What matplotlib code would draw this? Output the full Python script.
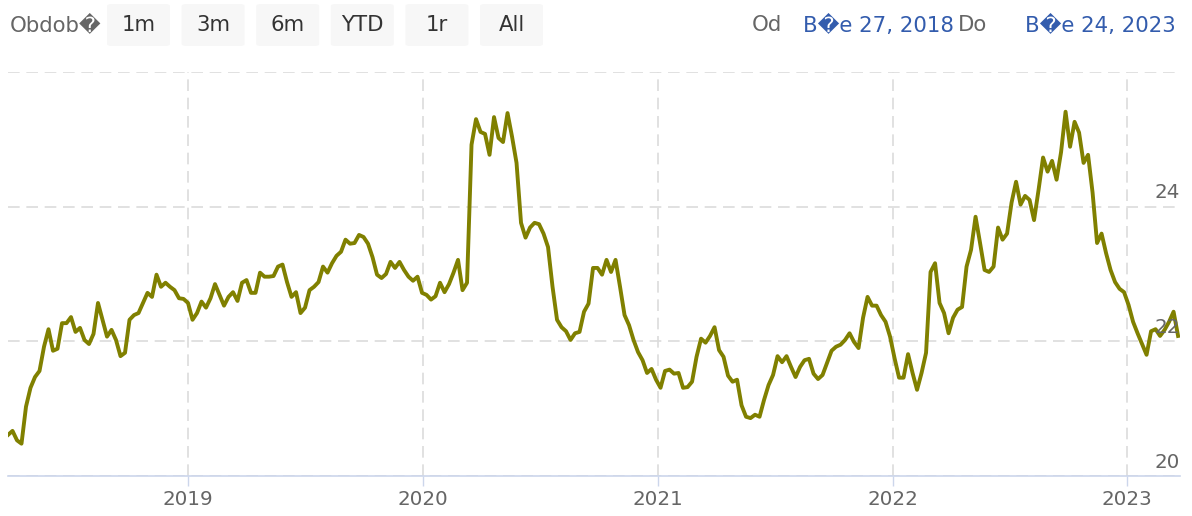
import matplotlib
matplotlib.use("Agg")
import matplotlib.pyplot as plt
import matplotlib.dates as mdates
from matplotlib.patches import FancyBboxPatch
import pandas as pd


START = "2018-03-27"
END = "2023-03-24"

# weekly values
VALUES = [
    20.61, 20.67, 20.53, 20.48, 21.03, 21.31, 21.47, 21.56, 21.92, 22.18,
    21.86, 21.89, 22.27, 22.27, 22.36, 22.14, 22.20, 22.02, 21.96, 22.11,
    22.57, 22.32, 22.07, 22.17, 22.02, 21.78, 21.83, 22.32, 22.39, 22.42,
    22.57, 22.72, 22.66, 22.99, 22.81, 22.87, 22.81, 22.76, 22.64, 22.63,
    22.57, 22.32, 22.42, 22.59, 22.50, 22.64, 22.85, 22.69, 22.53, 22.66,
    22.73, 22.60, 22.87, 22.91, 22.72, 22.72, 23.02, 22.96, 22.96, 22.97,
    23.11, 23.14, 22.88, 22.66, 22.73, 22.42, 22.50, 22.76, 22.81, 22.88,
    23.11, 23.02, 23.16, 23.27, 23.33, 23.51, 23.45, 23.46, 23.58, 23.55,
    23.45, 23.25, 22.99, 22.94, 23.00, 23.18, 23.09, 23.18, 23.06, 22.96,
    22.90, 22.96, 22.72, 22.69, 22.62, 22.67, 22.87, 22.73, 22.85, 23.02,
    23.21, 22.76, 22.87, 24.92, 25.30, 25.11, 25.08, 24.77, 25.33, 25.02,
    24.96, 25.39, 25.04, 24.65, 23.76, 23.54, 23.69, 23.76, 23.74, 23.60,
    23.40, 22.81, 22.32, 22.21, 22.15, 22.02, 22.12, 22.14, 22.44, 22.56,
    23.09, 23.09, 22.99, 23.21, 23.03, 23.21, 22.81, 22.39, 22.24, 22.02,
    21.84, 21.72, 21.53, 21.59, 21.43, 21.31, 21.56, 21.58, 21.52, 21.53,
    21.31, 21.32, 21.40, 21.77, 22.04, 21.98, 22.08, 22.21, 21.87, 21.77,
    21.49, 21.40, 21.43, 21.05, 20.88, 20.86, 20.91, 20.88, 21.13, 21.35,
    21.50, 21.78, 21.69, 21.78, 21.62, 21.47, 21.62, 21.72, 21.74, 21.52,
    21.44, 21.50, 21.68, 21.86, 21.92, 21.95, 22.02, 22.12, 21.99, 21.90,
    22.35, 22.66, 22.53, 22.53, 22.39, 22.29, 22.07, 21.75, 21.46, 21.46,
    21.81, 21.53, 21.28, 21.53, 21.83, 23.03, 23.16, 22.57, 22.42, 22.12,
    22.35, 22.47, 22.51, 23.11, 23.36, 23.85, 23.46, 23.06, 23.03, 23.11,
    23.69, 23.51, 23.60, 24.06, 24.37, 24.03, 24.16, 24.10, 23.80, 24.25,
    24.73, 24.52, 24.68, 24.40, 24.81, 25.41, 24.89, 25.26, 25.10, 24.65,
    24.77, 24.21, 23.46, 23.60, 23.31, 23.06, 22.88, 22.78, 22.73, 22.54,
    22.29, 22.12, 21.96, 21.80, 22.15, 22.18, 22.08, 22.17, 22.29, 22.44,
    22.08,
]

Y_GRID = [20, 22, 24, 26]
Y_LABELS = [20, 22, 24]
BUTTONS = ["1m", "3m", "6m", "YTD", "1r", "All"]
RANGE_LABEL = "Obdob\ufffd"
FROM_LABEL = "Od"
TO_LABEL = "Do"
FROM_DATE = "B\ufffde 27, 2018"
TO_DATE = "B\ufffde 24, 2023"

W, H = 1192, 516
LINE_COLOR = "#808000"
GRID_COLOR = "#dcdcdc"
AXIS_COLOR = "#ccd6eb"
LABEL_COLOR = "#666666"
TOP_SIZE = 15.3
AXIS_SIZE = 14.3


def fx(px):
    return px / W


def fy(py):
    return 1 - py / H


def main():
    dates = pd.date_range(START, periods=len(VALUES), freq="7D")

    fig = plt.figure(figsize=(W / 100, H / 100), dpi=100)
    ax = fig.add_axes([fx(8), fy(476), fx(1180) - fx(8), fy(72) - fy(476)])

    ax.plot(dates, VALUES, color=LINE_COLOR, linewidth=2.8,
            solid_joinstyle="round", zorder=3)

    ax.set_xlim(pd.Timestamp(START), pd.Timestamp(END))
    ax.set_ylim(20, 26)

    for side in ["top", "left", "right"]:
        ax.spines[side].set_visible(False)
    ax.spines["bottom"].set_color(AXIS_COLOR)
    ax.spines["bottom"].set_linewidth(1.2)
    ax.spines["bottom"].set_zorder(4)

    ax.set_yticks(Y_GRID)
    ax.tick_params(axis="y", length=0, labelleft=False)
    ax.yaxis.grid(True, color=GRID_COLOR, linewidth=1.2, linestyle=(0, (7, 4)))

    ax.xaxis.set_major_locator(mdates.YearLocator())
    ax.xaxis.set_major_formatter(mdates.DateFormatter("%Y"))
    ax.xaxis.grid(True, color=GRID_COLOR, linewidth=1.2, linestyle=(0, (7, 4)))
    ax.tick_params(axis="x", length=7, width=1, color=AXIS_COLOR,
                   labelsize=AXIS_SIZE, labelcolor=LABEL_COLOR, pad=3)

    for v in Y_LABELS:
        ax.annotate(str(v), xy=(1.0, v), xycoords=ax.get_yaxis_transform(),
                    xytext=(0, 3), textcoords="offset points",
                    ha="right", va="bottom", fontsize=AXIS_SIZE,
                    color=LABEL_COLOR, zorder=5)

    # range selector
    fig.text(fx(10), fy(25), RANGE_LABEL, ha="left", va="center",
             fontsize=TOP_SIZE, color=LABEL_COLOR)
    for i, name in enumerate(BUTTONS):
        x0 = 107 + i * 74.6
        box = FancyBboxPatch((fx(x0), fy(46)), fx(63), fy(4) - fy(46),
                             boxstyle="round,pad=0,rounding_size=0.004",
                             transform=fig.transFigure, facecolor="#f7f7f7",
                             edgecolor="none")
        fig.patches.append(box)
        fig.text(fx(x0 + 31.5), fy(25), name, ha="center", va="center",
                 fontsize=TOP_SIZE, color="#333333")

    fig.text(fx(752), fy(25), FROM_LABEL, ha="left", va="center",
             fontsize=TOP_SIZE, color=LABEL_COLOR)
    fig.text(fx(803), fy(25), FROM_DATE, ha="left", va="center",
             fontsize=TOP_SIZE, color="#335cad")
    fig.text(fx(958), fy(25), TO_LABEL, ha="left", va="center",
             fontsize=TOP_SIZE, color=LABEL_COLOR)
    fig.text(fx(1025), fy(25), TO_DATE, ha="left", va="center",
             fontsize=TOP_SIZE, color="#335cad")

    fig.savefig("out.png", dpi=100)


if __name__ == "__main__":
    main()
